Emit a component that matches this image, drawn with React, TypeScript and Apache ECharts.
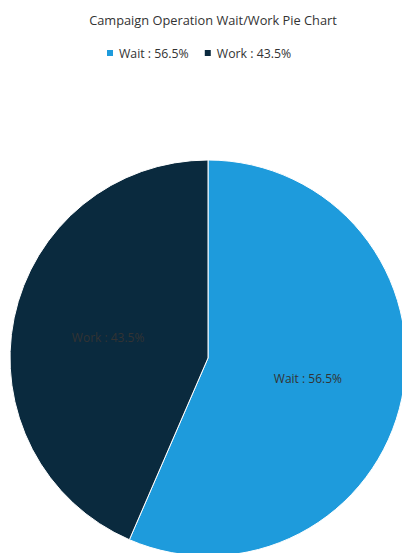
import React, { useEffect, useRef } from "react";
import * as echarts from "echarts";

const categories = ["Wait", "Work"];
const values = [56.5, 43.5];
const colors = ["#1e9bdc", "#0a2a3e"];
const titleText = "Campaign Operation Wait/Work Pie Chart";

export default function App() {
  const ref = useRef<HTMLDivElement>(null);
  useEffect(() => {
    document.body.style.margin = "0";
    const chart = echarts.init(ref.current!, null, { renderer: "svg" });
    const font = "'Open Sans', 'Noto Sans', sans-serif";
    chart.setOption({
      animation: false,
      title: {
        text: titleText,
        left: 208,
        textAlign: "center",
        top: 8,
        textStyle: { fontSize: 12.8, fontWeight: "normal", color: "#333", fontFamily: font },
      },
      legend: {
        top: 42,
        left: 100,
        itemWidth: 8,
        itemHeight: 8,
        itemGap: 14,
        icon: "rect",
        textStyle: { fontSize: 12.3, color: "#333", fontFamily: font },
        formatter: (name: string) => {
          const i = categories.indexOf(name);
          return `${name} : ${values[i]}%`;
        },
        data: categories,
      },
      series: [
        {
          type: "pie",
          center: [208, 358],
          radius: 198,
          startAngle: 90,
          clockwise: true,
          data: categories.map((c, i) => ({
            name: c,
            value: values[i],
            itemStyle: { color: colors[i] },
          })),
          itemStyle: { borderColor: "#fff", borderWidth: 1 },
          label: {
            show: true,
            position: "inside",
            formatter: (p: any) => `${p.name} : ${p.value}%`,
            color: "#333",
            fontSize: 12,
            fontFamily: font,
          },
          labelLine: { show: false },
          emphasis: { disabled: true },
        },
      ],
    });
    return () => chart.dispose();
  }, []);
  return <div ref={ref} style={{ width: 402, height: 553 }} />;
}
